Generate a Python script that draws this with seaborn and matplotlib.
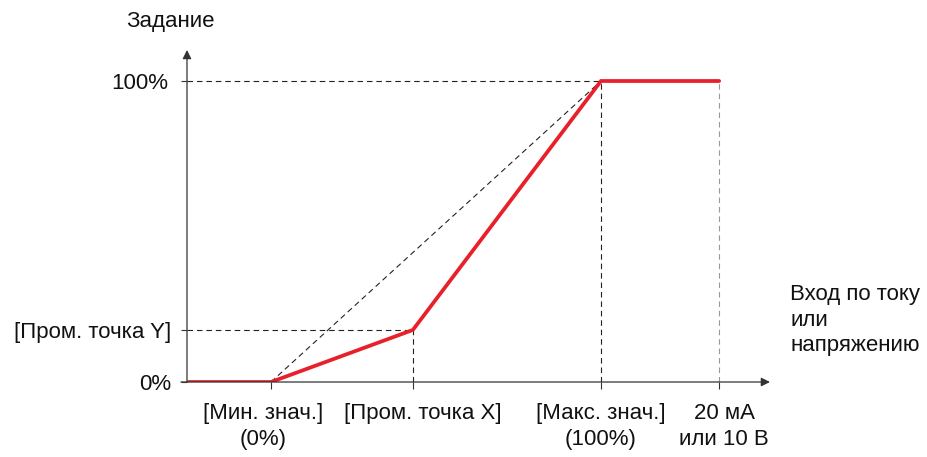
import matplotlib
matplotlib.use("Agg")
import matplotlib.pyplot as plt
import matplotlib.transforms as mtransforms
import seaborn as sns
import pandas as pd

# input axis in % of [Мин. знач.]..[Макс. знач.], output in % of reference
curve_x = [-25, 0, 43, 100, 135.8]
curve_y = [0, 0, 17.3, 100, 100]
x_ticks = [0, 43, 100, 135.8]
x_labels = ["[Мин. знач.]\n(0%)", "[Пром. точка X]", "[Макс. знач.]\n(100%)", "20 мА\nили 10 В"]
y_ticks = [0, 17.3, 100]
y_labels = ["0%", "[Пром. точка Y]", "100%"]

sns.set_theme(style="white")
plt.rcParams["font.family"] = ["Liberation Sans", "DejaVu Sans"]

fig = plt.figure(figsize=(9.28, 4.57), dpi=100)
ax = fig.add_axes([0.2015, 0.1641, 0.6282, 0.7265])
ax.set_xlim(-25.45, 151.2)
ax.set_ylim(0, 110.3)

dash = dict(linestyle=(0, (5, 3.5)), linewidth=0.8, zorder=2)
# guide lines
x0, x_mid, x_max, x_end = x_ticks
y0, y_mid, y_max = y_ticks
ax.plot([x0, x_max], [y0, y_max], color="#222222", **dash)
ax.plot([-25.45, x_max], [y_max, y_max], color="#222222", **dash)
ax.plot([-25.45, x_mid], [y_mid, y_mid], color="#222222", **dash)
ax.plot([x_mid, x_mid], [y0, y_mid], color="#222222", **dash)
ax.plot([x_max, x_max], [y0, y_max], color="#222222", **dash)
ax.plot([x_end, x_end], [y0, y_max], color="#999999", **dash)

df = pd.DataFrame({"x": curve_x, "y": curve_y})
sns.lineplot(data=df, x="x", y="y", sort=False, color="#e8202a", linewidth=2.7,
             ax=ax, zorder=3, solid_joinstyle="miter")

for s in ax.spines.values():
    s.set_visible(False)
axis_col = "#333333"
ax.annotate("", xy=(151.2, 0), xytext=(-27.3, 0), xycoords="data",
            arrowprops=dict(arrowstyle="-|>", color=axis_col, lw=0.9,
                            mutation_scale=13, shrinkA=0, shrinkB=0),
            annotation_clip=False)
ax.annotate("", xy=(-25.45, 110.3), xytext=(-25.45, 0), xycoords="data",
            arrowprops=dict(arrowstyle="-|>", color=axis_col, lw=0.9,
                            mutation_scale=13, shrinkA=0, shrinkB=0),
            annotation_clip=False)

fs = 16
ax.set_xticks(x_ticks)
ax.set_xticklabels(x_labels, fontsize=fs, linespacing=1.3, color="#111111")
ax.set_yticks(y_ticks)
ax.set_yticklabels(y_labels, fontsize=fs, color="#111111")
ax.tick_params(axis="x", direction="out", length=5, width=0.8, color=axis_col,
               pad=10, bottom=True)
ax.tick_params(axis="y", direction="out", length=4.5, width=0.8, color=axis_col,
               pad=7, left=True)
ax.set_xlabel("")
ax.set_ylabel("")

# nudge the crowded x labels apart, as in the original drawing
shifts = [-8, 10, 0, 5]
for lab, dx in zip(ax.get_xticklabels(), shifts):
    lab.set_transform(lab.get_transform() +
                      mtransforms.ScaledTranslation(dx / 100, 0, fig.dpi_scale_trans))
for lab in ax.get_yticklabels():
    if lab.get_text() == "100%":
        lab.set_transform(lab.get_transform() +
                          mtransforms.ScaledTranslation(-3 / 100, 0, fig.dpi_scale_trans))

fig.text(170 / 928, 1 - 22 / 457, "Задание", fontsize=fs, ha="center", va="center",
         color="#111111")
fig.text(790 / 928, 1 - 320 / 457, "Вход по току\nили\nнапряжению", fontsize=fs,
         ha="left", va="center", linespacing=1.3, color="#111111")

fig.savefig("out.png", dpi=100)
